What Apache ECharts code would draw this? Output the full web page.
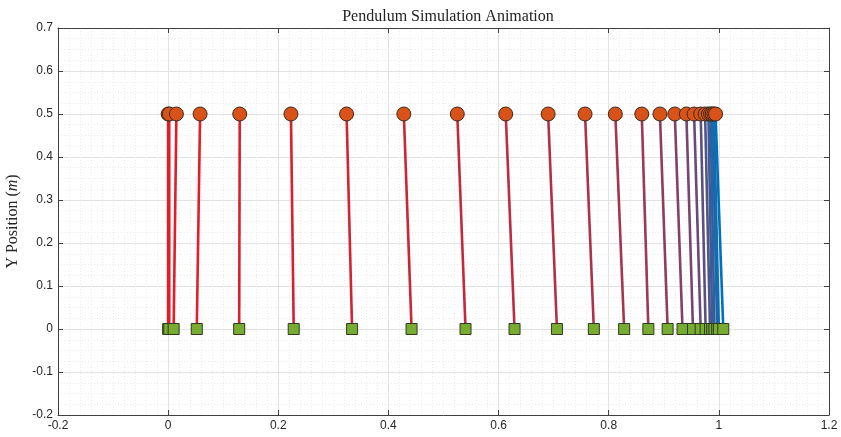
<!DOCTYPE html>
<html>
<head>
<meta charset="utf-8">
<script src="https://cdn.jsdelivr.net/npm/echarts@6/dist/echarts.min.js"></script>
<style>
  html, body { margin: 0; padding: 0; background: #fff; }
  #chart { width: 841px; height: 437px; }
</style>
</head>
<body>
<div id="chart"></div>
<script>
'use strict'

// pendulum bob x (at pivotY) and cart x (at cartY), one entry per frame
const bobX = [0, 0.002, 0.015, 0.058, 0.13, 0.223, 0.324, 0.428, 0.525, 0.613,
  0.69, 0.757, 0.812, 0.86, 0.893, 0.92, 0.941, 0.955, 0.967, 0.975,
  0.981, 0.985, 0.988, 0.991, 0.994];
const cartX = [0, 0.002, 0.01, 0.052, 0.129, 0.228, 0.334, 0.442, 0.54, 0.629,
  0.706, 0.773, 0.828, 0.872, 0.907, 0.934, 0.953, 0.967, 0.976, 0.984,
  0.988, 0.992, 0.997, 1.0, 1.008];
const pivotY = 0.5;
const cartY = 0;

const xTicks = ['-0.2', '0', '0.2', '0.4', '0.6', '0.8', '1', '1.2'];
const yTicks = ['-0.2', '-0.1', '0', '0.1', '0.2', '0.3', '0.4', '0.5', '0.6', '0.7'];

const RED = [230, 28, 38];
const BLUE = [0, 114, 189];

function frameColor(i, n) {
  const t = Math.pow(i / (n - 1), 1.8);
  const c = RED.map((v, k) => Math.round(v + (BLUE[k] - v) * t));
  return 'rgb(' + c.join(',') + ')';
}

const chart = echarts.init(document.getElementById('chart'));

const axisText = { color: '#262626', fontFamily: 'Liberation Sans', fontSize: 12 };
const gridMajor = { show: true, lineStyle: { color: '#e2e2e2', width: 1 } };
const gridMinor = { show: true, lineStyle: { color: '#ebebeb', width: 1, type: [1, 2] } };

function valueAxis(min, max, interval, minorSplit, extra) {
  return Object.assign({
    type: 'value',
    min: min, max: max, interval: interval,
    axisLine: { show: true, onZero: false, lineStyle: { color: '#404040' } },
    axisTick: { show: true, inside: true, length: 5, lineStyle: { color: '#404040' } },
    minorTick: { show: false, splitNumber: minorSplit },
    splitLine: gridMajor,
    minorSplitLine: gridMinor,
    axisLabel: Object.assign({ margin: 5 }, axisText),
  }, extra || {});
}

const series = [];
const n = bobX.length;
for (let i = 0; i < n; i++) {
  series.push({
    type: 'line',
    data: [[bobX[i], pivotY], [cartX[i], cartY]],
    symbol: 'none',
    lineStyle: { color: frameColor(i, n), width: 2.6 },
    z: 2,
  });
}
series.push({
  type: 'scatter',
  data: bobX.map(x => [x, pivotY]),
  symbol: 'circle',
  symbolSize: 14,
  itemStyle: { color: '#D95319', borderColor: '#3a2a20', borderWidth: 1, opacity: 1 },
  z: 4,
});
series.push({
  type: 'scatter',
  data: cartX.map(x => [x, cartY]),
  symbol: 'rect',
  symbolSize: 11,
  itemStyle: { color: '#77AC30', borderColor: '#2f3a22', borderWidth: 1, opacity: 1 },
  z: 3,
});

chart.setOption({
  animation: false,
  backgroundColor: '#fff',
  title: {
    text: 'Pendulum Simulation Animation',
    left: 443, top: 4, textAlign: 'center',
    textStyle: { fontFamily: 'Liberation Serif', fontWeight: 'normal', fontSize: 16, color: '#222' },
  },
  grid: { left: 58, right: 12, top: 28, bottom: 22, show: false, outerBoundsMode: 'none', containLabel: false },
  xAxis: [
    valueAxis(-0.2, 1.2, 0.2, 10, {
      position: 'bottom',
      axisLabel: Object.assign({ margin: 5, formatter: v => xTicks[Math.round((v + 0.2) / 0.2)] }, axisText),
    }),
    valueAxis(-0.2, 1.2, 0.2, 10, {
      position: 'top',
      axisLabel: { show: false },
      splitLine: { show: false },
      minorSplitLine: { show: false },
    }),
  ],
  yAxis: [
    valueAxis(-0.2, 0.7, 0.1, 4, {
      position: 'left',
      name: '{a|Y Position (}{b|m}{a|)}',
      nameLocation: 'middle',
      nameRotate: 90,
      nameGap: 37,
      nameTextStyle: {
        rich: {
          a: { fontFamily: 'Liberation Serif', fontSize: 16, color: '#262626' },
          b: { fontFamily: 'Liberation Serif', fontStyle: 'italic', fontSize: 16, color: '#262626' },
        },
      },
      axisLabel: Object.assign({ margin: 5, formatter: v => yTicks[Math.round((v + 0.2) / 0.1)] }, axisText),
    }),
    valueAxis(-0.2, 0.7, 0.1, 4, {
      position: 'right',
      axisLabel: { show: false },
      splitLine: { show: false },
      minorSplitLine: { show: false },
    }),
  ],
  series: series,
});
</script>
</body>
</html>
